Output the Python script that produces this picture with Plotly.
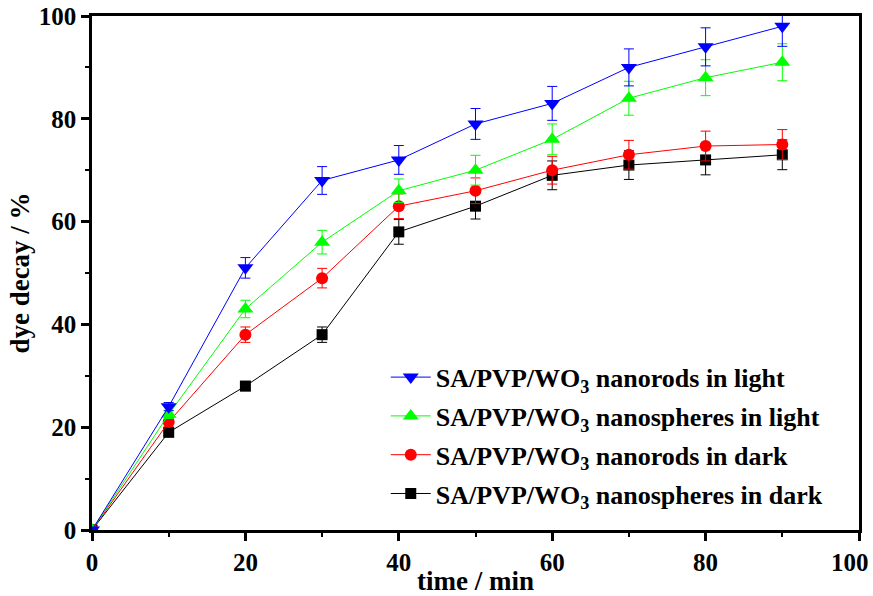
import plotly.graph_objects as go

# Dye decay over time for the four sample types
time_min = [0, 10, 20, 30, 40, 50, 60, 70, 80, 90]

rods_light = [0, 24, 51, 68, 72, 79, 83, 90, 94, 98]
rods_light_err = [0, 0.8, 2.0, 2.7, 2.8, 3.0, 3.3, 3.6, 3.7, 3.9]

spheres_light = [0, 22.5, 43, 56, 66, 70, 76, 84, 88, 91]
spheres_light_err = [0, 0.8, 1.7, 2.3, 2.3, 2.9, 3.0, 3.3, 3.5, 3.6]

rods_dark = [0, 21, 38, 49, 63, 66, 70, 73, 74.7, 75]
rods_dark_err = [0, 0.8, 1.5, 1.9, 2.4, 2.5, 2.7, 2.8, 2.9, 2.9]

spheres_dark = [0, 19, 28, 38, 58, 63, 69, 71, 72, 73]
spheres_dark_err = [0, 0.7, 0.9, 1.5, 2.4, 2.5, 2.8, 2.8, 2.9, 2.9]

x_tickvals = [0, 20, 40, 60, 80, 100]
# last label padded so it stays inside the page edge
x_ticktext = ["0", "20", "40", "60", "80", "100\u00a0\u00a0\u00a0"]

# drawn bottom-to-top; legend rank gives the listed order
series = [
    ("SA/PVP/WO<sub>3</sub> nanospheres in dark", spheres_dark, spheres_dark_err, "#000000", "square", 11, 4),
    ("SA/PVP/WO<sub>3</sub> nanorods in dark", rods_dark, rods_dark_err, "#ff0000", "circle", 12, 3),
    ("SA/PVP/WO<sub>3</sub> nanospheres in light", spheres_light, spheres_light_err, "#00ff00", "triangle-up", 14, 2),
    ("SA/PVP/WO<sub>3</sub> nanorods in light", rods_light, rods_light_err, "#0000ff", "triangle-down", 14, 1),
]

FONT = "Liberation Serif"

fig = go.Figure()
for name, ys, errs, color, symbol, size, rank in series:
    fig.add_trace(go.Scatter(
        x=time_min, y=ys, name=name, legendgroup=name, legendrank=rank,
        mode="lines+markers",
        line=dict(color=color, width=1),
        marker=dict(symbol=symbol, size=size, color=color),
        error_y=dict(type="data", array=errs, visible=True,
                     color=color, thickness=1, width=5),
        cliponaxis=True,
    ))

axis_common = dict(
    showgrid=False, zeroline=False, automargin=False,
    showline=True, linecolor="black", linewidth=2.5, mirror=True,
    ticks="outside", ticklen=8, tickwidth=2.5, tickcolor="black",
    tickfont=dict(family=FONT, size=25, color="black", weight="bold"),
    ticklabeloverflow="allow",
    minor=dict(ticks="outside", ticklen=4, tickwidth=2, tickcolor="black", dtick=10),
)

fig.update_xaxes(
    range=[0, 100], tickmode="array", tickvals=x_tickvals, ticktext=x_ticktext,
    title=dict(text="time / min", font=dict(family=FONT, size=27, color="black", weight="bold"), standoff=6),
    **axis_common,
)
fig.update_yaxes(
    range=[0, 100], dtick=20, tick0=0,
    title=dict(text="dye decay / %", font=dict(family=FONT, size=27, color="black", weight="bold"), standoff=2),
    **axis_common,
)

fig.update_layout(
    width=873, height=596,
    margin=dict(l=92, r=14, t=16, b=66),
    plot_bgcolor="white", paper_bgcolor="white",
    font=dict(family=FONT, color="black"),
    showlegend=True,
    legend=dict(
        x=0.383, y=0.343, xanchor="left", yanchor="top",
        traceorder="grouped",
        bgcolor="rgba(0,0,0,0)",
        font=dict(family=FONT, size=26, color="black", weight="bold"),
        itemwidth=40, tracegroupgap=2,
    ),
)

fig.write_html("out.html")
